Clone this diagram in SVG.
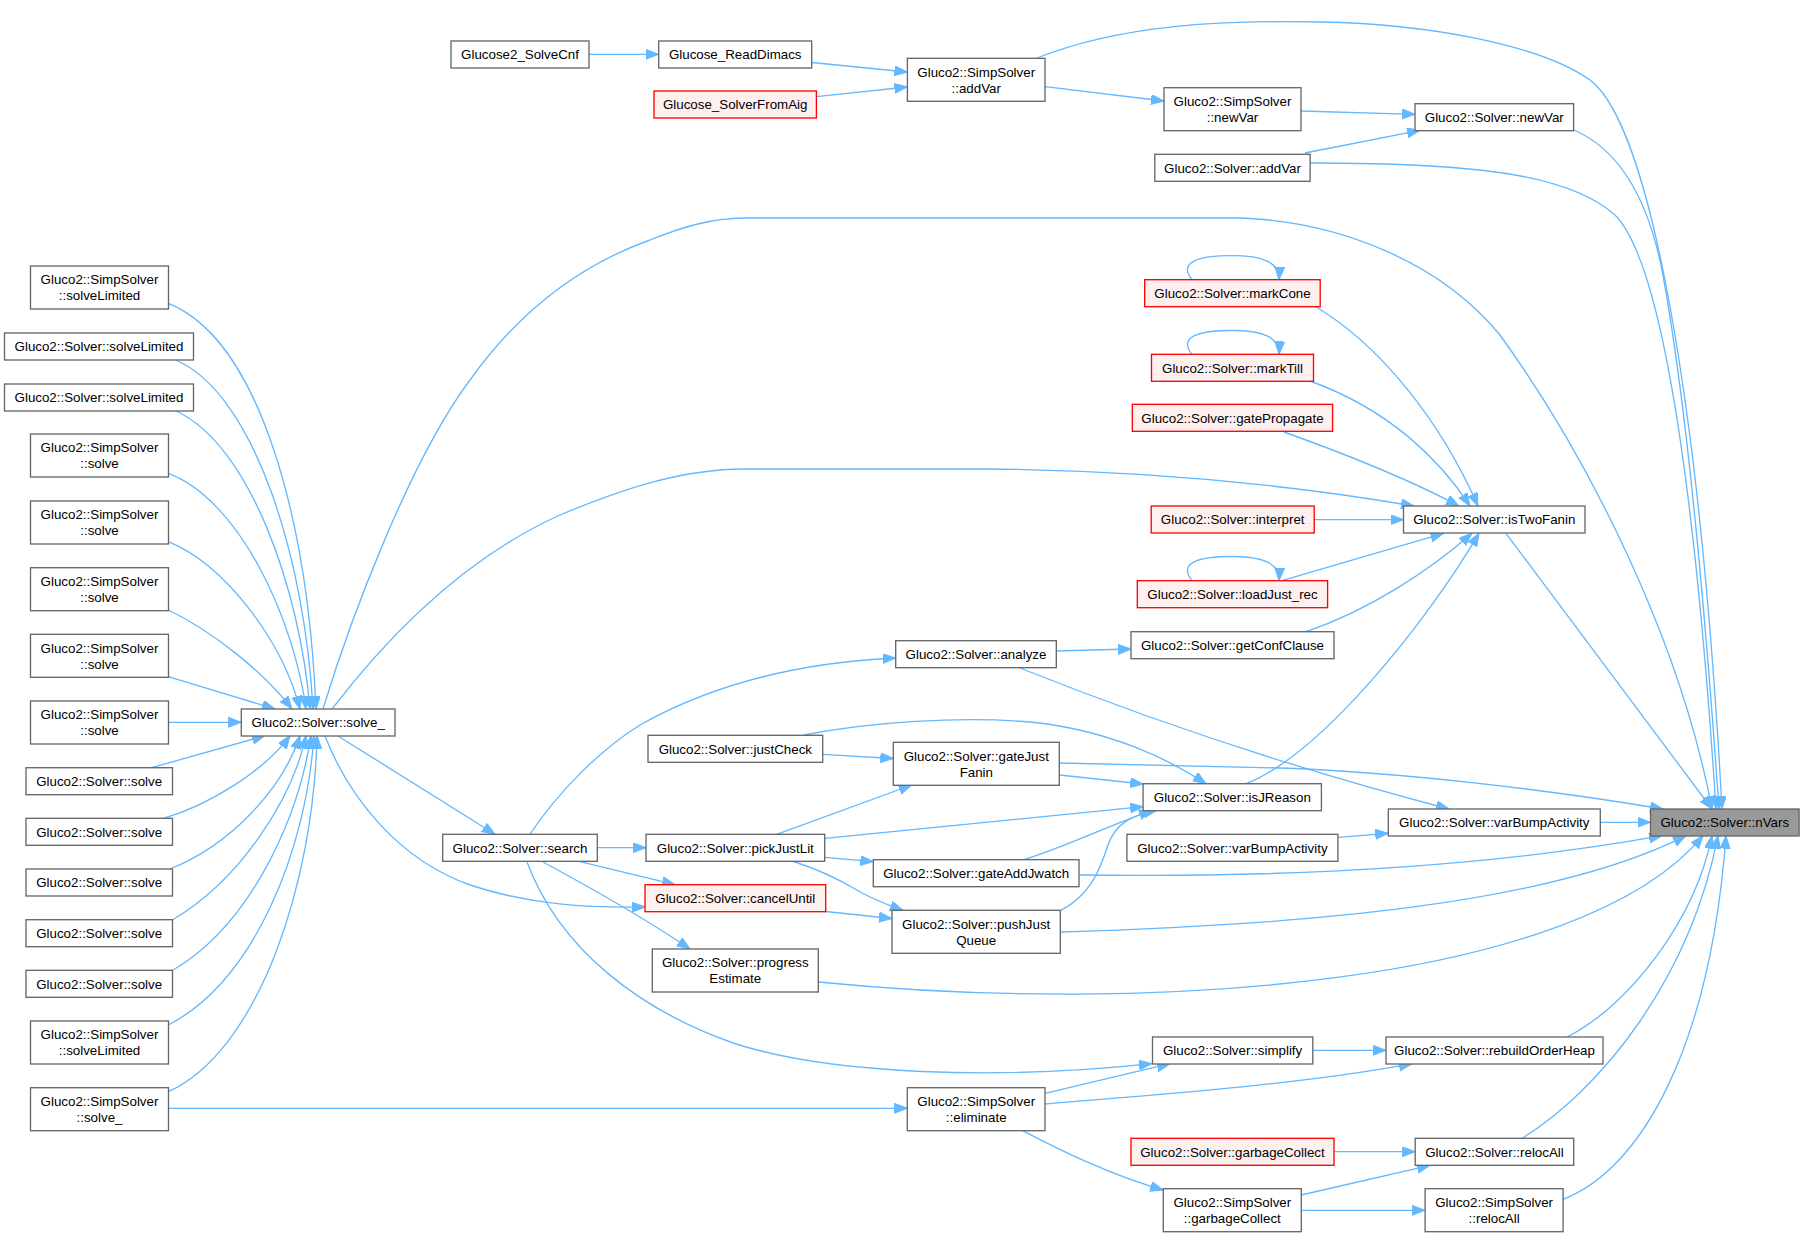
<svg xmlns="http://www.w3.org/2000/svg" width="1804" height="1237" viewBox="0 0 1804 1237">
<style>
.n rect{fill:#ffffff;stroke:#666666;stroke-width:1.33}
.r rect{fill:#fff0f0;stroke:#ff0000;stroke-width:1.33}
.g rect{fill:#999999;stroke:#666666;stroke-width:1.33}
text{font-family:'Liberation Sans',Arial,sans-serif;font-size:13.33px;text-anchor:middle;fill:#000000}
#edges path{fill:none;stroke:#63b8ff;stroke-width:1.33;marker-end:url(#ah)}
</style>
<defs>
<marker id="ah" markerUnits="userSpaceOnUse" markerWidth="14" markerHeight="11" refX="13" refY="5" orient="auto">
<path d="M0,0 L13,5 L0,10 z" fill="#63b8ff" stroke="#63b8ff" stroke-width="1"/>
</marker>
</defs>
<rect width="1804" height="1237" fill="#ffffff"/>
<g id="edges">
<path d="M589,54.3 L658.7,54.3"/>
<path d="M811.7,62.5 L907.4,72"/>
<path d="M816.4,96.7 L907.4,87"/>
<path d="M1045,86.7 L1164,101"/>
<path d="M1037,58 C1120,25 1220,20 1320,22 C1430,24 1540,45 1590,80 C1650,125 1700,400 1722,809"/>
<path d="M1301,111 L1415,114.3"/>
<path d="M1305,153 L1420,130.3"/>
<path d="M1310,163 C1480,163 1570,175 1615,215 C1670,270 1700,560 1716,809"/>
<path d="M1574,130 C1620,150 1648,200 1662,270 C1690,420 1708,650 1719,809"/>
<path d="M323,709 C350,620 410,460 470,380 C520,310 580,265 650,240 C680,228 710,218 745,218 L1242,218 C1340,222 1440,262 1500,335 C1590,460 1680,640 1712,809"/>
<path d="M332,709 C385,640 460,560 560,515 C620,490 680,469 745,469 L986,469 C1100,470 1250,478 1414,506"/>
<path d="M168.3,303.3 C260,340 308,520 316,709"/>
<path d="M176.7,360.5 C255,395 305,560 313,709"/>
<path d="M176,411 C250,445 300,590 310,709"/>
<path d="M168.3,473.3 C240,500 294,620 306,709"/>
<path d="M168.3,541.7 C225,565 282,640 300,709"/>
<path d="M168.3,610 C210,630 262,670 292,709"/>
<path d="M168.3,676.7 L275,709"/>
<path d="M168.3,722.3 L241.3,722.3"/>
<path d="M151.7,767.7 L265,735.7"/>
<path d="M163.3,818.3 C210,805 265,770 290,735.7"/>
<path d="M170,869 C230,845 282,790 300,735.7"/>
<path d="M172.7,919.7 C240,880 292,800 306,735.7"/>
<path d="M172.7,970.3 C250,925 298,820 311,735.7"/>
<path d="M168.3,1025 C255,980 306,850 314,735.7"/>
<path d="M168.3,1091.7 C260,1050 314,880 317,735.7"/>
<path d="M530,834 C560,790 600,750 640,725 C720,680 810,662 895.7,658"/>
<path d="M597.3,847.7 L646,847.7"/>
<path d="M580,861.7 L675,884.7"/>
<path d="M543,862 C580,882 640,915 690,949"/>
<path d="M527,862 C560,950 640,1010 733,1043 C830,1075 1000,1080 1152,1063.7"/>
<path d="M338,736 L495,834.3"/>
<path d="M325,736 C350,800 400,860 470,885 C530,905 590,908 645,907"/>
<path d="M822.7,754.3 L893.3,758.5"/>
<path d="M804,735 C870,722 960,716 1030,722 C1110,730 1170,760 1206,783.7"/>
<path d="M1059.3,775 L1143.1,784"/>
<path d="M1059.3,763 L1280,768 C1400,772 1550,790 1663,809"/>
<path d="M776.7,834.3 L911.7,785"/>
<path d="M824.7,838.3 L1143.1,806.7"/>
<path d="M824.7,857.3 L873.3,861.7"/>
<path d="M792,861 C820,870 840,880 855,889 C870,898 885,904 903,910.3"/>
<path d="M825.7,911.5 L892,918.5"/>
<path d="M1024,859.7 C1070,845 1110,825 1152,810.3"/>
<path d="M1079,875 C1300,878 1500,865 1662,835.7"/>
<path d="M1061,910.3 C1090,895 1100,870 1108,845 C1115,825 1130,815 1157,810.3"/>
<path d="M1060.3,932 C1300,925 1550,905 1686,835.7"/>
<path d="M818.3,982 C1150,1015 1580,985 1703,835.7"/>
<path d="M1056.3,651 L1131,649"/>
<path d="M1020,668 C1150,720 1300,770 1449,809"/>
<path d="M1306,631.7 C1370,610 1430,570 1472,533.3"/>
<path d="M1246,783.7 C1320,755 1425,625 1479,533.3"/>
<path d="M1282,580.7 L1443.5,533.3"/>
<path d="M1314.2,519.7 L1403.5,519.7"/>
<path d="M1284,432 C1340,452 1410,480 1459,506"/>
<path d="M1310,381 C1390,410 1440,460 1470,506"/>
<path d="M1315,306.3 C1380,345 1440,420 1478,506"/>
<path d="M1506,533.3 C1560,605 1660,740 1712,809"/>
<path d="M1192,279.7 C1178,262 1198,255.7 1232,255.7 C1262,255.7 1280,262 1279,279.7"/>
<path d="M1192,354.3 C1178,337 1198,330.5 1232,330.5 C1262,330.5 1280,337 1279,354.3"/>
<path d="M1192,580.7 C1178,563 1198,556.5 1232,556.5 C1262,556.5 1280,563 1279,580.7"/>
<path d="M1338,837.3 L1388.3,833.3"/>
<path d="M1600.2,822.3 L1650.5,822.3"/>
<path d="M1312.8,1050.3 L1386,1050.3"/>
<path d="M1045,1093.3 L1170,1063.7"/>
<path d="M1045,1104 C1150,1095 1300,1085 1412,1063.7"/>
<path d="M1022,1130.3 C1060,1150 1110,1175 1163.3,1190"/>
<path d="M168.3,1108.3 L907.3,1108.3"/>
<path d="M1567,1037 C1630,1005 1695,920 1712,835.7"/>
<path d="M1334,1151.7 L1415.2,1151.7"/>
<path d="M1301.2,1195 L1430,1165.3"/>
<path d="M1301.2,1210.3 L1425.1,1210.3"/>
<path d="M1522,1138.3 C1600,1090 1690,980 1718,835.7"/>
<path d="M1563,1199.3 C1640,1170 1710,1050 1726,835.7"/>
</g>
<g id="nodes">
<g id="n1" class="n"><rect x="451" y="41" width="138" height="27"/><text x="520" y="59.2">Glucose2_SolveCnf</text></g>
<g id="n2" class="n"><rect x="658.7" y="41" width="153" height="27"/><text x="735.2" y="59.2">Glucose_ReadDimacs</text></g>
<g id="n3" class="r"><rect x="654" y="91" width="162.4" height="27"/><text x="735.2" y="109.2">Glucose_SolverFromAig</text></g>
<g id="n4" class="n"><rect x="907.4" y="58.3" width="137.6" height="43"/><text x="976.2" y="76.5">Gluco2::SimpSolver</text><text x="976.2" y="92.5">::addVar</text></g>
<g id="n5" class="n"><rect x="1164" y="87.7" width="137" height="43"/><text x="1232.5" y="105.9">Gluco2::SimpSolver</text><text x="1232.5" y="121.9">::newVar</text></g>
<g id="n6" class="n"><rect x="1415" y="103.7" width="158.6" height="27"/><text x="1494.3" y="121.9">Gluco2::Solver::newVar</text></g>
<g id="n7" class="n"><rect x="1154.8" y="154.3" width="155.3" height="27"/><text x="1232.5" y="172.5">Gluco2::Solver::addVar</text></g>
<g id="n8" class="r"><rect x="1144.7" y="279.7" width="175.5" height="27"/><text x="1232.5" y="297.9">Gluco2::Solver::markCone</text></g>
<g id="n9" class="r"><rect x="1151.5" y="354.3" width="162" height="27"/><text x="1232.5" y="372.5">Gluco2::Solver::markTill</text></g>
<g id="n10" class="r"><rect x="1132.3" y="404.3" width="200.3" height="27"/><text x="1232.5" y="422.5">Gluco2::Solver::gatePropagate</text></g>
<g id="n11" class="r"><rect x="1151.2" y="506" width="163" height="27"/><text x="1232.7" y="524.2">Gluco2::Solver::interpret</text></g>
<g id="n12" class="n"><rect x="1403.5" y="506" width="181.5" height="27"/><text x="1494.3" y="524.2">Gluco2::Solver::isTwoFanin</text></g>
<g id="n13" class="r"><rect x="1137.3" y="580.7" width="190.3" height="27"/><text x="1232.5" y="598.9">Gluco2::Solver::loadJust_rec</text></g>
<g id="n14" class="n"><rect x="1131" y="631.7" width="203" height="27"/><text x="1232.5" y="649.9">Gluco2::Solver::getConfClause</text></g>
<g id="n15" class="n"><rect x="895.7" y="640.7" width="160.6" height="27"/><text x="976" y="658.9">Gluco2::Solver::analyze</text></g>
<g id="n16" class="n"><rect x="648" y="735.3" width="174.7" height="27"/><text x="735.3" y="753.5">Gluco2::Solver::justCheck</text></g>
<g id="n17" class="n"><rect x="893.3" y="742.3" width="166" height="43"/><text x="976.3" y="760.5">Gluco2::Solver::gateJust</text><text x="976.3" y="776.5">Fanin</text></g>
<g id="n18" class="n"><rect x="1143.1" y="783.7" width="178.3" height="27"/><text x="1232.3" y="801.9">Gluco2::Solver::isJReason</text></g>
<g id="n19" class="n"><rect x="1388.3" y="809" width="212" height="27"/><text x="1494.3" y="827.2">Gluco2::Solver::varBumpActivity</text></g>
<g id="n20" class="g"><rect x="1650.5" y="809" width="148.6" height="27"/><text x="1724.8" y="827.2">Gluco2::Solver::nVars</text></g>
<g id="n21" class="n"><rect x="1126.9" y="834.3" width="211" height="27"/><text x="1232.4" y="852.5">Gluco2::Solver::varBumpActivity</text></g>
<g id="n22" class="n"><rect x="442.7" y="834.3" width="154.6" height="27"/><text x="520" y="852.5">Gluco2::Solver::search</text></g>
<g id="n23" class="n"><rect x="646" y="834.3" width="178.7" height="27"/><text x="735.3" y="852.5">Gluco2::Solver::pickJustLit</text></g>
<g id="n24" class="n"><rect x="873.3" y="859.7" width="205.7" height="27"/><text x="976.2" y="877.9">Gluco2::Solver::gateAddJwatch</text></g>
<g id="n25" class="r"><rect x="645" y="884.7" width="180.7" height="27"/><text x="735.3" y="902.9">Gluco2::Solver::cancelUntil</text></g>
<g id="n26" class="n"><rect x="892" y="910.3" width="168.3" height="43"/><text x="976.2" y="928.5">Gluco2::Solver::pushJust</text><text x="976.2" y="944.5">Queue</text></g>
<g id="n27" class="n"><rect x="652.3" y="949" width="166" height="43"/><text x="735.3" y="967.2">Gluco2::Solver::progress</text><text x="735.3" y="983.2">Estimate</text></g>
<g id="n28" class="n"><rect x="1152.5" y="1037" width="160.3" height="27"/><text x="1232.6" y="1055.2">Gluco2::Solver::simplify</text></g>
<g id="n29" class="n"><rect x="1386" y="1037" width="217" height="27"/><text x="1494.5" y="1055.2">Gluco2::Solver::rebuildOrderHeap</text></g>
<g id="n30" class="n"><rect x="907.3" y="1087.7" width="137.7" height="43"/><text x="976.2" y="1105.9">Gluco2::SimpSolver</text><text x="976.2" y="1121.9">::eliminate</text></g>
<g id="n31" class="r"><rect x="1131" y="1138.3" width="203" height="27"/><text x="1232.5" y="1156.5">Gluco2::Solver::garbageCollect</text></g>
<g id="n32" class="n"><rect x="1415.2" y="1138.3" width="158.5" height="27"/><text x="1494.5" y="1156.5">Gluco2::Solver::relocAll</text></g>
<g id="n33" class="n"><rect x="1163.3" y="1188.7" width="138" height="43"/><text x="1232.3" y="1206.9">Gluco2::SimpSolver</text><text x="1232.3" y="1222.9">::garbageCollect</text></g>
<g id="n34" class="n"><rect x="1425.1" y="1188.7" width="138" height="43"/><text x="1494.1" y="1206.9">Gluco2::SimpSolver</text><text x="1494.1" y="1222.9">::relocAll</text></g>
<g id="n35" class="n"><rect x="241.3" y="709" width="153.7" height="27"/><text x="318.2" y="727.2">Gluco2::Solver::solve_</text></g>
<g id="n36" class="n"><rect x="30.5" y="266" width="138" height="43"/><text x="99.5" y="284.2">Gluco2::SimpSolver</text><text x="99.5" y="300.2">::solveLimited</text></g>
<g id="n37" class="n"><rect x="4.5" y="333" width="189" height="27"/><text x="99" y="351.2">Gluco2::Solver::solveLimited</text></g>
<g id="n38" class="n"><rect x="4.5" y="384" width="189" height="27"/><text x="99" y="402.2">Gluco2::Solver::solveLimited</text></g>
<g id="n39" class="n"><rect x="30.5" y="434" width="138" height="43"/><text x="99.5" y="452.2">Gluco2::SimpSolver</text><text x="99.5" y="468.2">::solve</text></g>
<g id="n40" class="n"><rect x="30.5" y="501" width="138" height="43"/><text x="99.5" y="519.2">Gluco2::SimpSolver</text><text x="99.5" y="535.2">::solve</text></g>
<g id="n41" class="n"><rect x="30.5" y="567.7" width="138" height="43"/><text x="99.5" y="585.9">Gluco2::SimpSolver</text><text x="99.5" y="601.9">::solve</text></g>
<g id="n42" class="n"><rect x="30.5" y="634.3" width="138" height="43"/><text x="99.5" y="652.5">Gluco2::SimpSolver</text><text x="99.5" y="668.5">::solve</text></g>
<g id="n43" class="n"><rect x="30.5" y="701" width="138" height="43"/><text x="99.5" y="719.2">Gluco2::SimpSolver</text><text x="99.5" y="735.2">::solve</text></g>
<g id="n44" class="n"><rect x="26" y="767.7" width="146.5" height="27"/><text x="99.2" y="785.9">Gluco2::Solver::solve</text></g>
<g id="n45" class="n"><rect x="26" y="818.3" width="146.5" height="27"/><text x="99.2" y="836.5">Gluco2::Solver::solve</text></g>
<g id="n46" class="n"><rect x="26" y="869" width="146.5" height="27"/><text x="99.2" y="887.2">Gluco2::Solver::solve</text></g>
<g id="n47" class="n"><rect x="26" y="919.7" width="146.5" height="27"/><text x="99.2" y="937.9">Gluco2::Solver::solve</text></g>
<g id="n48" class="n"><rect x="26" y="970.3" width="146.5" height="27"/><text x="99.2" y="988.5">Gluco2::Solver::solve</text></g>
<g id="n49" class="n"><rect x="30.5" y="1021" width="138" height="43"/><text x="99.5" y="1039.2">Gluco2::SimpSolver</text><text x="99.5" y="1055.2">::solveLimited</text></g>
<g id="n50" class="n"><rect x="30.5" y="1087.7" width="138" height="43"/><text x="99.5" y="1105.9">Gluco2::SimpSolver</text><text x="99.5" y="1121.9">::solve_</text></g>
</g>
</svg>
